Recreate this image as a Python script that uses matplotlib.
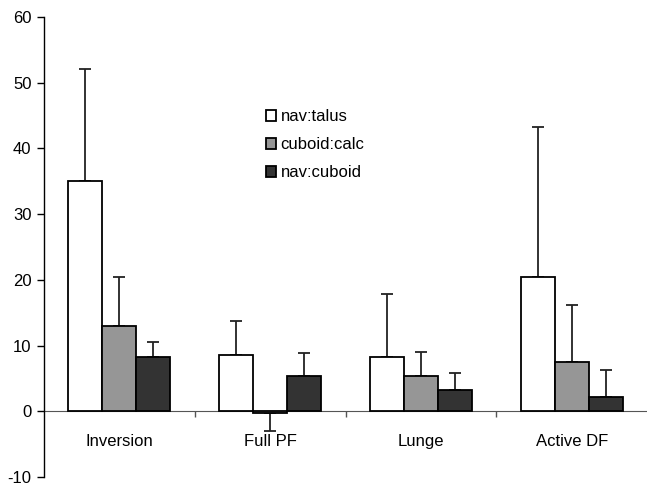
import numpy as np
import matplotlib
matplotlib.use('Agg')
import matplotlib.pyplot as plt

plt.rcParams['font.family'] = ['Liberation Sans', 'DejaVu Sans']
plt.rcParams['font.size'] = 12
plt.rcParams['axes.unicode_minus'] = False

#%% data

categories = ['Inversion', 'Full PF', 'Lunge', 'Active DF']
series = ['nav:talus', 'cuboid:calc', 'nav:cuboid']

nav_talus = [35.1, 8.5, 8.2, 20.5]
cuboid_calc = [13.0, -0.3, 5.4, 7.5]
nav_cuboid = [8.3, 5.3, 3.2, 2.1]

nav_talus_err = [17.0, 5.2, 9.7, 22.8]
cuboid_calc_err = [7.4, 2.7, 3.6, 8.7]
nav_cuboid_err = [2.3, 3.5, 2.7, 4.2]

colors = ['white', '#969696', '#333333']

#%% plot

fig = plt.figure(figsize=(6.47, 4.88), dpi=100)
ax = fig.add_axes([44/647, 11/488, 603/647, 460/488])

x = np.arange(len(categories))
w = 0.225

values = [nav_talus, cuboid_calc, nav_cuboid]
errs = [nav_talus_err, cuboid_calc_err, nav_cuboid_err]

for k in range(3):
    vals = np.array(values[k])
    e = np.array(errs[k])
    # error bars only point away from zero
    lower = np.where(vals < 0, e, 0)
    upper = np.where(vals >= 0, e, 0)
    pos = x + (k - 1) * w
    ax.errorbar(pos, vals, yerr=[lower, upper], fmt='none', ecolor='#222222',
                elinewidth=1.3, capsize=4.5, capthick=1.3, zorder=1)
    ax.bar(pos, vals, width=w, color=colors[k], edgecolor='black',
           linewidth=1.3, label=series[k], zorder=2)

ax.set_xlim(-0.5, 3.5)
ax.set_ylim(-10, 60)
ax.set_yticks(np.arange(-10, 61, 10))

ax.spines['top'].set_visible(False)
ax.spines['right'].set_visible(False)
ax.spines['bottom'].set_position(('data', 0))
ax.spines['bottom'].set_color('#555555')
ax.spines['bottom'].set_zorder(0)
ax.spines['left'].set_linewidth(1.0)

ax.tick_params(axis='y', direction='out', length=5, width=1.0, pad=4)

# separators between categories, labels in the middle
ax.set_xticks([0.5, 1.5, 2.5])
ax.set_xticklabels([])
ax.tick_params(axis='x', which='major', direction='out', length=4, width=1.0, color='#555555')
ax.set_xticks(x, minor=True)
ax.set_xticklabels(categories, minor=True)
ax.tick_params(axis='x', which='minor', length=0, pad=16)

ax.legend(loc='upper left', bbox_to_anchor=(258/647, 1 - 101/488),
          bbox_transform=fig.transFigure, frameon=False, borderpad=0,
          handlelength=0.6, handleheight=0.6, handletextpad=0.25,
          labelspacing=0.78, fontsize=12)

plt.savefig('out.png', dpi=100)
